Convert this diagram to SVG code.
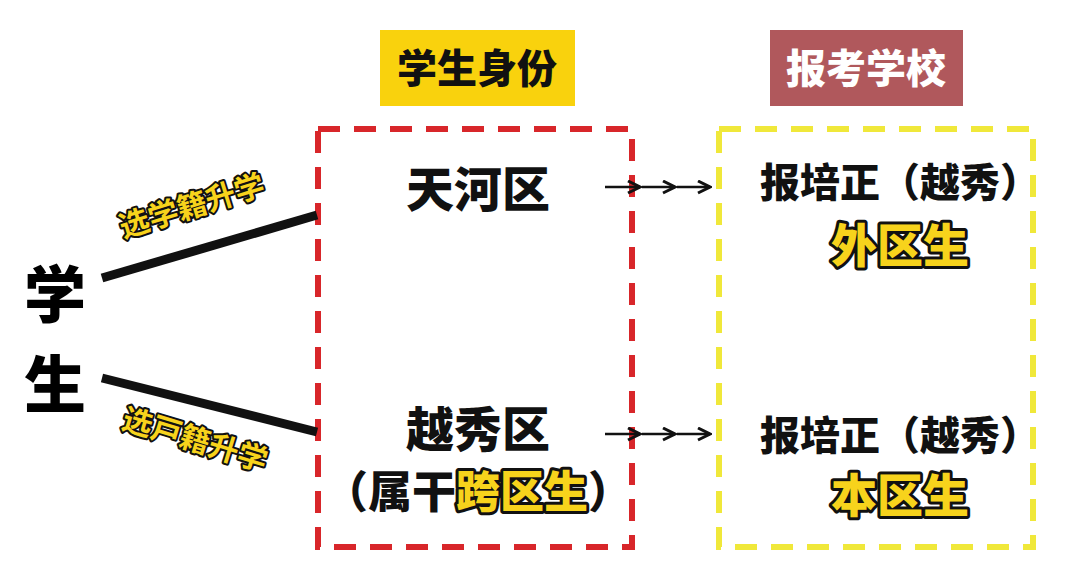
<svg xmlns="http://www.w3.org/2000/svg" width="1080" height="565" viewBox="0 0 1080 565">
<style>
text{font-family:"Noto Sans CJK SC","Noto Sans",sans-serif;font-weight:900;text-anchor:middle}
.big{font-size:48px;fill:#111}
.yel{fill:#f7d31c;stroke:#111;stroke-width:6;paint-order:stroke;stroke-linejoin:round}
.lab{font-size:30px;font-weight:700;fill:#f7d31c;stroke:#111;stroke-width:4;paint-order:stroke;stroke-linejoin:round}
.arr{stroke:#111;stroke-width:2.5;marker-end:url(#ah)}
</style>
<defs><marker id="ah" viewBox="0 0 10 10" refX="9" refY="5" markerWidth="6" markerHeight="6" orient="auto"><path d="M1,1 L9,5 L1,9" fill="none" stroke="#111" stroke-width="2"/></marker></defs>
<rect width="1080" height="565" fill="#fff"/>
<g id="student"><text x="55" y="318" font-size="62">学</text><text x="55" y="408" font-size="62">生</text></g>
<g id="title1"><rect x="380" y="30" width="195" height="76" fill="#f9d20d"/><text x="477" y="83" font-size="40" fill="#111">学生身份</text></g>
<g id="title2"><rect x="770" y="30" width="193" height="76" fill="#b0585c"/><text x="866" y="83" font-size="40" fill="#fff">报考学校</text></g>
<g id="box1"><rect x="318" y="129" width="314" height="418" fill="none" stroke="#d8262a" stroke-width="6" stroke-dasharray="22 14"/>
<text class="big" x="478" y="207">天河区</text><text class="big" x="478" y="447">越秀区</text>
<text x="478" y="508" font-size="44" fill="#111">（属干<tspan class="yel">跨区生</tspan>）</text></g>
<g id="box2"><rect x="719" y="129" width="314" height="418" fill="none" stroke="#f0e83a" stroke-width="6" stroke-dasharray="22 14"/>
<text x="900" y="197" font-size="40" fill="#111">报培正（越秀）</text><text class="yel" x="900" y="262" font-size="46">外区生</text>
<text x="900" y="450" font-size="40" fill="#111">报培正（越秀）</text><text class="yel" x="900" y="512" font-size="46">本区生</text></g>
<g id="connectors">
<line x1="102" y1="278" x2="317" y2="215" stroke="#111" stroke-width="9"/>
<line x1="102" y1="378" x2="317" y2="432" stroke="#111" stroke-width="9"/>
<text class="lab" transform="translate(195,216) rotate(-17)">选学籍升学</text>
<text class="lab" transform="translate(192,450) rotate(17)">选戸籍升学</text>
<line class="arr" x1="605" y1="187" x2="640" y2="187"/><line class="arr" x1="642" y1="187" x2="675" y2="187"/><line class="arr" x1="677" y1="187" x2="710" y2="187"/>
<line class="arr" x1="605" y1="434" x2="640" y2="434"/><line class="arr" x1="642" y1="434" x2="675" y2="434"/><line class="arr" x1="677" y1="434" x2="710" y2="434"/>
</g>
</svg>
